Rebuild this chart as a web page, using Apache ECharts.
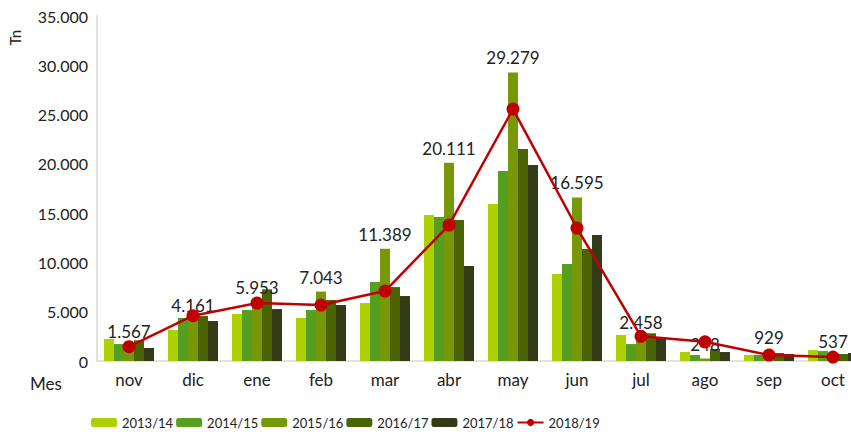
<!DOCTYPE html>
<html>
<head>
<meta charset="utf-8">
<script src="https://cdn.jsdelivr.net/npm/echarts@6/dist/echarts.min.js"></script>
<style>html,body{margin:0;padding:0;background:#fff;overflow:hidden;width:851px;height:432px;}#c{width:865px;height:432px;}</style>
</head>
<body>
<div id="c"></div>
<script>
const categories = ['nov','dic','ene','feb','mar','abr','may','jun','jul','ago','sep','oct'];
const s2013 = [2230, 3140, 4770, 4360, 5880, 14810, 15920, 8820, 2640, 910, 610, 1110];
const s2014 = [1720, 4360, 5170, 5170, 8010, 14600, 19270, 9840, 1720, 610, 610, 1010];
const s2015 = [1567, 4161, 5953, 7043, 11389, 20111, 29279, 16595, 2458, 248, 929, 537];
const s2016 = [2100, 4560, 7270, 6190, 7500, 14300, 21500, 11360, 2810, 1220, 810, 710];
const s2017 = [1320, 4060, 5270, 5680, 6590, 9640, 19880, 12780, 2400, 910, 710, 810];
const s2018 = [1450, 4600, 5880, 5680, 7100, 13790, 25560, 13490, 2500, 1950, 600, 400];
const seriesNames = ['2013/14','2014/15','2015/16','2016/17','2017/18','2018/19'];
const colors = ['#AECF00','#559E1F','#779807','#4A6405','#343B18','#C00000'];

function fmt(v){ return String(Math.round(v)).replace(/\B(?=(\d{3})+(?!\d))/g,'.'); }
const FONT = 'Lato';
const chart = echarts.init(document.getElementById('c'), null, {renderer:'svg'});
const barData = [s2013, s2014, s2015, s2016, s2017];
const series = barData.map((d,i)=>({
  name: seriesNames[i], type:'bar', data:d, barWidth:10, barGap:'0%',
  itemStyle:{color:colors[i]},
  label: i===2 ? {show:true, position:'top', distance:6, formatter:p=>fmt(p.value), fontFamily:FONT, fontSize:17, color:'#222'} : {show:false}
}));
series.push({
  name: seriesNames[5], type:'line', data:s2018, z:5,
  symbol:'circle', symbolSize:13,
  lineStyle:{color:colors[5], width:2.5},
  itemStyle:{color:colors[5]}
});
chart.setOption({
  animation:false,
  textStyle:{fontFamily:FONT},
  grid:{left:97, right:0, top:16, bottom:71, containLabel:false},
  xAxis:{type:'category', data:categories,
    axisLine:{lineStyle:{color:'#d9d9d9', width:1.5}}, axisTick:{show:false},
    axisLabel:{fontFamily:FONT, fontSize:17, color:'#222', margin:10}},
  yAxis:{type:'value', min:0, max:35000, interval:5000,
    axisLine:{show:true, lineStyle:{color:'#d9d9d9', width:1.5}}, axisTick:{show:false},
    splitLine:{show:false},
    axisLabel:{formatter:v=>fmt(v), fontFamily:FONT, fontSize:16, color:'#222', margin:9}},
  legend:{left:86, top:411, itemWidth:26, itemHeight:9, itemGap:3,
    textStyle:{fontFamily:FONT, fontSize:13, color:'#222'},
    data:seriesNames},
  graphic:[
    {type:'text', left:7, top:30, rotation:Math.PI/2, style:{text:'Tn', font:'15px '+FONT, fill:'#222'}},
    {type:'text', left:30, top:375, style:{text:'Mes', font:'17px '+FONT, fill:'#222'}}
  ],
  series:series
});
</script>
</body>
</html>
